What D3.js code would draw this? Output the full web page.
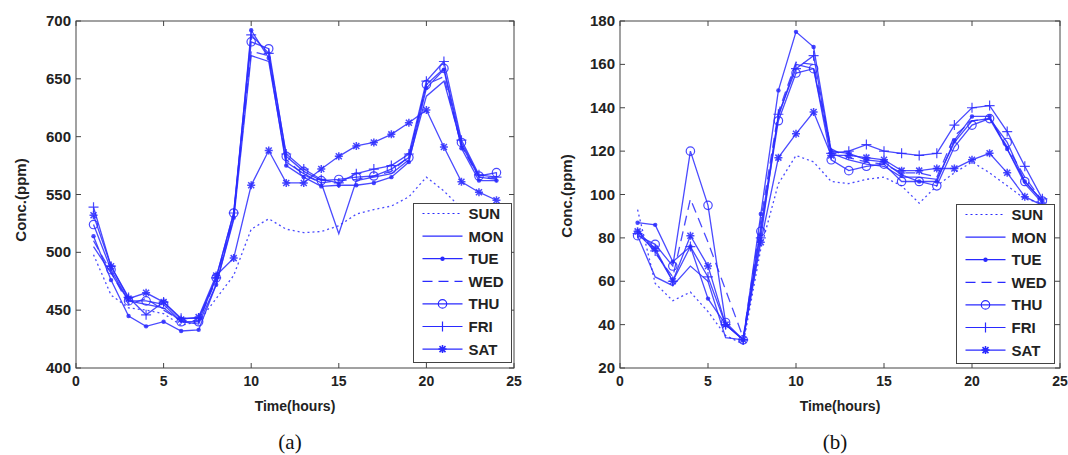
<!DOCTYPE html>
<html>
<head>
<meta charset="utf-8">
<script src="https://cdn.jsdelivr.net/npm/d3@7"></script>
<style>
  body { margin: 0; background: #fff; }
  svg text { font-family: "Liberation Sans", Arial, sans-serif; }
  svg text.caption { font-family: "Liberation Serif", "Times New Roman", serif; }
</style>
</head>
<body>
<svg id="chart" width="1068" height="455"></svg>
<script>
// hours on the x axis
const hours = [1,2,3,4,5,6,7,8,9,10,11,12,13,14,15,16,17,18,19,20,21,22,23,24];
const days = ["SUN", "MON", "TUE", "WED", "THU", "FRI", "SAT"];

// panel (a)
const aSun = [498,463,452,450,447,437,440,460,480,520,529,520,517,518,523,533,537,540,548,565,553,538,528,520];
const aMon = [505,482,458,455,452,440,438,472,528,670,665,578,568,560,516,562,565,568,580,635,648,593,565,563];
const aTue = [514,476,445,436,440,432,433,472,530,692,668,575,565,557,558,558,560,565,578,642,658,590,562,562];
const aWed = [510,483,455,460,450,441,441,476,532,674,670,580,567,560,562,563,566,570,583,645,652,592,565,564];
const aThu = [524,485,458,458,455,440,440,478,534,682,676,583,570,562,563,565,566,572,582,645,659,595,566,569];
const aFri = [539,488,461,446,457,443,443,478,534,688,672,585,572,563,560,568,572,575,585,648,665,597,567,565];
const aSat = [532,488,460,465,457,442,444,480,495,558,588,560,560,572,583,592,595,602,612,623,591,561,552,545];

// panel (b)
const bSun = [93,59,51,55,46,35,31,75,105,118,115,106,105,107,108,104,96,104,110,115,110,104,98,96];
const bMon = [81,62,58,67,60,34,33,85,136,160,158,119,116,114,113,108,108,107,124,134,135,121,105,96];
const bTue = [87,86,69,76,52,40,33,91,148,175,168,120,119,116,115,109,106,106,125,136,136,121,106,97];
const bWed = [84,73,62,98,78,56,34,88,138,161,160,121,117,115,114,110,110,108,127,134,135,122,108,97];
const bThu = [81,77,67,120,95,41,33,83,134,156,158,116,111,113,114,106,106,104,122,132,135,124,106,97];
const bFri = [82,74,60,76,62,40,33,80,137,158,164,119,120,123,120,119,118,119,132,140,141,129,113,98];
const bSat = [83,75,60,81,67,40,33,78,117,128,138,118,118,117,116,111,111,112,112,116,119,110,99,95];

const xTicks = [0,5,10,15,20,25];
const aTicks = [400,450,500,550,600,650,700];
const bTicks = [20,40,60,80,100,120,140,160,180];

const blue = "#2a2aff";
const dashes = {SUN: "2,3", WED: "10,6"};

const svg = d3.select("#chart");

function drawMarker(g, day, cx, cy) {
    if (day == "TUE") {
        g.append("circle").attr("cx", cx).attr("cy", cy).attr("r", 2.2)
            .attr("fill", blue);
    } else if (day == "THU") {
        g.append("circle").attr("cx", cx).attr("cy", cy).attr("r", 4.2)
            .attr("fill", "none").attr("stroke", blue).attr("stroke-width", 1.2);
    } else if (day == "FRI") {
        g.append("path").attr("d", `M${cx-5},${cy}H${cx+5}M${cx},${cy-5}V${cy+5}`)
            .attr("stroke", blue).attr("stroke-width", 1.2);
    } else if (day == "SAT") {
        g.append("path")
            .attr("d", `M${cx-4},${cy}H${cx+4}M${cx},${cy-4}V${cy+4}M${cx-3},${cy-3}L${cx+3},${cy+3}M${cx-3},${cy+3}L${cx+3},${cy-3}`)
            .attr("stroke", blue).attr("stroke-width", 1.5);
    }
}

function drawPanel(opt) {
    const x = d3.scaleLinear().domain([0, 25]).range([opt.left, opt.right]);
    const y = d3.scaleLinear().domain(opt.domain).range([368, 21]);
    const g = svg.append("g");

    const line = d3.line()
        .x((d, i) => x(hours[i]))
        .y(d => y(d));

    opt.series.forEach(function(vals, k) {
        const day = days[k];
        g.append("path")
            .attr("d", line(vals))
            .attr("fill", "none")
            .attr("stroke", blue)
            .attr("stroke-width", 1.3)
            .attr("stroke-opacity", 0.85)
            .attr("stroke-dasharray", dashes[day] || null);
        const mg = g.append("g").attr("opacity", 0.85);
        vals.forEach(function(v, i) {
            drawMarker(mg, day, x(hours[i]), y(v));
        });
    });

    // frame and inward ticks
    const frame = svg.append("g").attr("stroke", "#444").attr("fill", "none");
    frame.append("rect")
        .attr("x", opt.left).attr("y", 21)
        .attr("width", opt.right - opt.left).attr("height", 347);
    xTicks.forEach(function(t) {
        frame.append("path").attr("d", `M${x(t)},368V363M${x(t)},21V26`);
        svg.append("text")
            .attr("x", x(t)).attr("y", 386)
            .attr("text-anchor", "middle")
            .attr("font-size", 14).attr("font-weight", "bold")
            .attr("fill", "#222")
            .text(t);
    });
    opt.ticks.forEach(function(t) {
        frame.append("path").attr("d", `M${opt.left},${y(t)}H${opt.left+5}M${opt.right},${y(t)}H${opt.right-5}`);
        svg.append("text")
            .attr("x", opt.left - 5).attr("y", y(t) + 5)
            .attr("text-anchor", "end")
            .attr("font-size", 15).attr("font-weight", "bold")
            .attr("fill", "#222")
            .text(t);
    });

    // axis titles
    svg.append("text")
        .attr("x", (opt.left + opt.right) / 2).attr("y", 411)
        .attr("text-anchor", "middle")
        .attr("font-size", 14).attr("font-weight", "bold")
        .attr("fill", "#222")
        .text("Time(hours)");
    svg.append("text")
        .attr("transform", `translate(${opt.ylabX},${opt.ylabY}) rotate(-90)`)
        .attr("text-anchor", "middle")
        .attr("font-size", 15).attr("font-weight", "bold")
        .attr("fill", "#222")
        .text("Conc.(ppm)");
    svg.append("text")
        .attr("class", "caption")
        .attr("x", (opt.left + opt.right) / 2 - 5).attr("y", 449)
        .attr("text-anchor", "middle")
        .attr("font-size", 21)
        .attr("fill", "#111")
        .text(opt.caption);

    // legend
    const lg = svg.append("g").attr("transform", `translate(${opt.legX},${opt.legY})`);
    lg.append("rect")
        .attr("width", 98).attr("height", 159)
        .attr("fill", "#fff").attr("stroke", "#444");
    days.forEach(function(day, k) {
        const ly = 10 + k * 22.6;
        lg.append("path")
            .attr("d", `M9,${ly}H49`)
            .attr("stroke", blue).attr("stroke-width", 1.2)
            .attr("stroke-dasharray", dashes[day] || null);
        drawMarker(lg, day, 29, ly);
        lg.append("text")
            .attr("x", 55).attr("y", ly + 5.5)
            .attr("font-size", 15).attr("font-weight", "bold")
            .attr("fill", "#222")
            .text(day);
    });
}

drawPanel({
    left: 76, right: 514, domain: [400, 700], ticks: aTicks,
    series: [aSun, aMon, aTue, aWed, aThu, aFri, aSat],
    ylabX: 26, ylabY: 200, caption: "(a)", legX: 413.5, legY: 203.5
});

drawPanel({
    left: 620, right: 1060, domain: [20, 180], ticks: bTicks,
    series: [bSun, bMon, bTue, bWed, bThu, bFri, bSat],
    ylabX: 572, ylabY: 196, caption: "(b)", legX: 956.5, legY: 204.5
});
</script>
</body>
</html>
